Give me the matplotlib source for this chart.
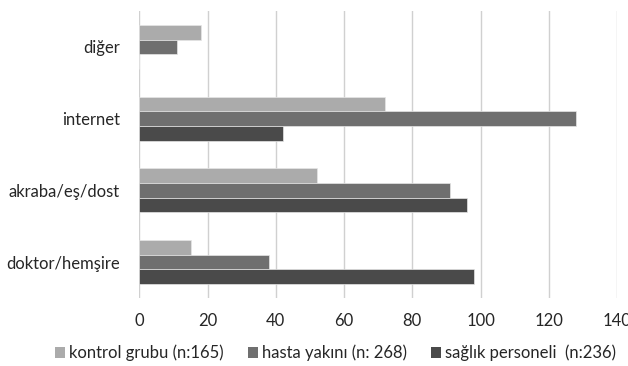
import matplotlib.pyplot as plt
import numpy as np
from matplotlib.patches import Patch

plt.rcParams['font.family'] = ['Lato', 'DejaVu Sans']

# categories from bottom to top
categories = ['doktor/hemşire', 'akraba/eş/dost', 'internet', 'diğer']
series_names = ['kontrol grubu (n:165)', 'hasta yakını (n: 268)', 'sağlık personeli  (n:236)']
kontrol = [15, 52, 72, 18]
hasta = [38, 91, 128, 11]
saglik = [98, 96, 42, 0]
colors = ['#ababab', '#6f6f6f', '#4a4a4a']

fig = plt.figure(figsize=(6.28, 3.66), dpi=100)
ax = fig.add_axes([0.222, 0.186, 0.7605, 0.784])

y = np.arange(len(categories))
h = 0.204
for i, (vals, col) in enumerate(zip([kontrol, hasta, saglik], colors)):
    ax.barh(y + (1 - i) * h, vals, height=h, color=col, edgecolor='#e6e6e6', linewidth=0.5, zorder=3)

ax.set_xlim(0, 140)
ax.set_ylim(-0.5, len(categories) - 0.5)
ax.set_xticks(range(0, 141, 20))
ax.set_yticks(y)
ax.set_yticklabels(categories, fontsize=12, color='#262626')
ax.tick_params(axis='x', labelsize=12, colors='#262626', length=0, pad=11)
ax.tick_params(axis='y', length=0, pad=14)
ax.grid(axis='x', color='#d0d0d0', linewidth=1, zorder=0)
for s in ax.spines.values():
    s.set_visible(False)

handles = [Patch(facecolor=c, edgecolor='none') for c in colors]
fig.legend(handles, series_names, loc='center', bbox_to_anchor=(0.534, 0.035), ncol=3,
           frameon=False, fontsize=12, handlelength=0.6, handleheight=0.6,
           handletextpad=0.25, columnspacing=1.45, labelcolor='#262626')

fig.savefig('out.png', dpi=100)
